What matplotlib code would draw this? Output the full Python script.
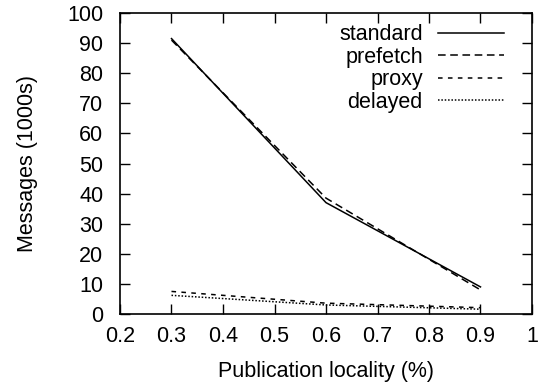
import numpy as np
import matplotlib
matplotlib.use("Agg")
import matplotlib.pyplot as plt
from matplotlib.ticker import FuncFormatter

# data
locality = [0.3, 0.6, 0.9]
standard = [91.5, 37.0, 9.0]
prefetch = [91.0, 38.5, 8.0]
proxy = [7.5, 3.6, 2.1]
delayed = [6.2, 3.0, 1.6]

plt.rcParams['font.family'] = ['Liberation Sans', 'DejaVu Sans']
plt.rcParams['font.size'] = 15.5

fig = plt.figure(figsize=(5.44, 3.88), dpi=100)
ax = fig.add_axes([120 / 544, 1 - 314 / 388, 412 / 544, 301 / 388])

lw = 1.1
ax.plot(locality, standard, color="black", lw=lw, linestyle="-", label="standard")
ax.plot(locality, prefetch, color="black", lw=lw, linestyle=(0, (5, 3)), label="prefetch")
ax.plot(locality, proxy, color="black", lw=lw, linestyle=(0, (3, 3.5)), label="proxy")
ax.plot(locality, delayed, color="black", lw=lw, linestyle=(0, (1, 1.2)), label="delayed")

ax.set_xlim(0.2, 1.0)
ax.set_ylim(0, 100)
ax.set_xticks(np.arange(0.2, 1.01, 0.1))
ax.set_yticks(np.arange(0, 101, 10))
ax.xaxis.set_major_formatter(FuncFormatter(lambda v, p: "%g" % round(v, 2)))
ax.tick_params(direction="in", length=7, width=1, top=True, right=True)
ax.tick_params(axis="x", pad=9)
ax.tick_params(axis="y", pad=12)
for s in ax.spines.values():
    s.set_linewidth(1.2)

ax.set_xlabel("Publication locality (%)", labelpad=10)
ax.set_ylabel("Messages (1000s)", labelpad=21)

leg = ax.legend(loc="upper right", frameon=False, markerfirst=False,
                handlelength=3.07, handletextpad=0.7, labelspacing=0.07,
                borderaxespad=0, borderpad=0, bbox_to_anchor=(0.932, 0.963))

fig.savefig("out.png", dpi=100)
